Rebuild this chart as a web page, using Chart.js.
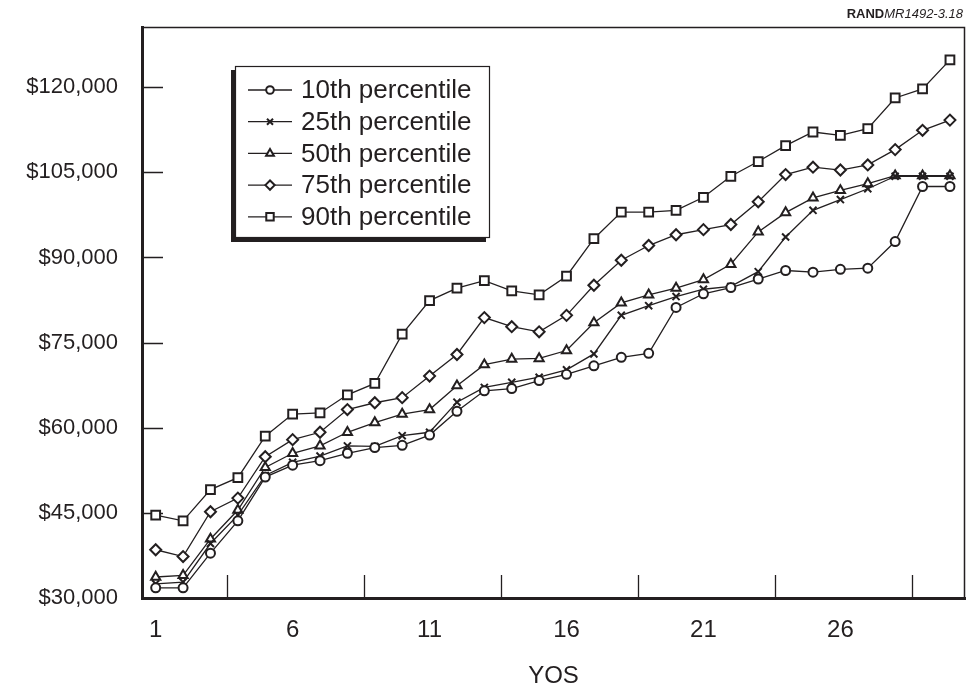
<!DOCTYPE html>
<html>
<head>
<meta charset="utf-8">
<script src="https://cdn.jsdelivr.net/npm/chart.js@4.4.0/dist/chart.umd.min.js"></script>
<style>
  html, body { margin: 0; padding: 0; background: #fff; }
  #wrap { width: 967px; height: 688px; }
</style>
</head>
<body>
<div id="wrap"><canvas id="yosChart" width="967" height="688"></canvas></div>
<script>
// years of service
const years = [1, 2, 3, 4, 5, 6, 7, 8, 9, 10, 11, 12, 13, 14, 15, 16, 17, 18, 19, 20, 21, 22, 23, 24, 25, 26, 27, 28, 29, 30];

// earnings by percentile
const p10 = [31800, 31800, 37900, 43600, 51300, 53400, 54200, 55500, 56500, 56900, 58700, 62900, 66500, 66900, 68300, 69400, 70900, 72400, 73100, 81200, 83600, 84700, 86200, 87700, 87400, 87900, 88100, 92800, 102500, 102500];
const p25 = [32500, 32800, 39600, 44600, 51600, 53900, 55000, 56800, 56700, 58600, 59200, 64500, 67100, 68000, 68900, 70200, 73000, 79800, 81500, 83100, 84400, 84900, 87500, 93600, 98300, 100200, 102100, 104300, 104300, 104300];
const p50 = [33700, 34000, 40400, 45500, 53000, 55500, 56800, 59200, 60900, 62400, 63200, 67400, 71100, 72100, 72200, 73600, 78500, 82000, 83400, 84600, 86100, 88800, 94500, 97900, 100500, 101800, 103000, 104400, 104400, 104400];
const p75 = [38500, 37300, 45200, 47600, 54900, 57900, 59200, 63200, 64400, 65300, 69100, 72900, 79400, 77800, 76900, 79800, 85100, 89500, 92100, 94000, 94900, 95800, 99800, 104600, 105900, 105400, 106300, 109000, 112400, 114200];
const p90 = [44600, 43600, 49100, 51200, 58500, 62400, 62600, 65800, 67800, 76500, 82400, 84600, 85900, 84100, 83400, 86700, 93300, 98000, 98000, 98300, 100600, 104300, 106900, 109700, 112100, 111500, 112700, 118100, 119700, 124800];

const seriesNames = ['10th percentile', '25th percentile', '50th percentile', '75th percentile', '90th percentile'];
const yTicks = [30000, 45000, 60000, 75000, 90000, 105000, 120000];
const xTickLabels = [1, 6, 11, 16, 21, 26];
const xTickMarks = [3.6, 8.6, 13.6, 18.6, 23.6, 28.6];

const ink = '#231f20';
const fontFamily = '"Liberation Sans", Arial, Helvetica, sans-serif';

function makeSet(label, values, style, radius) {
     return {
          label: label,
          data: years.map((yr, i) => ({ x: yr, y: values[i] })),
          borderColor: ink,
          borderWidth: 1.3,
          pointStyle: style,
          pointRadius: radius,
          pointBorderWidth: 2,
          pointBorderColor: ink,
          pointBackgroundColor: '#fff',
          tension: 0
     };
}

const datasets = [
     makeSet(seriesNames[0], p10, 'circle', 4.5),
     makeSet(seriesNames[1], p25, 'crossRot', 5),
     makeSet(seriesNames[2], p50, 'triangle', 5.3),
     makeSet(seriesNames[3], p75, 'rectRot', 5.5),
     makeSet(seriesNames[4], p90, 'rect', 6.2)
];

// frame, inside tick marks, boxed legend and the figure number
const framePlugin = {
     id: 'frame',
     beforeDatasetsDraw(chart) {
          const { ctx, chartArea: a, scales: { x, y } } = chart;
          ctx.save();
          ctx.strokeStyle = ink;
          ctx.lineWidth = 1.5;
          ctx.beginPath();
          ctx.moveTo(a.left, a.top + 0.5);
          ctx.lineTo(a.right - 0.5, a.top + 0.5);
          ctx.lineTo(a.right - 0.5, a.bottom);
          ctx.stroke();

          ctx.lineWidth = 1.3;
          ctx.beginPath();
          yTicks.forEach(v => {
               if (v === y.min) return;
               const py = Math.round(y.getPixelForValue(v)) + 0.5;
               ctx.moveTo(a.left, py);
               ctx.lineTo(a.left + 21, py);
          });
          xTickMarks.forEach(v => {
               const px = Math.round(x.getPixelForValue(v)) + 0.5;
               ctx.moveTo(px, a.bottom);
               ctx.lineTo(px, a.bottom - 23);
          });
          ctx.stroke();
          ctx.restore();
     },
     afterDraw(chart) {
          const ctx = chart.ctx;
          ctx.save();

          // legend box with drop shadow
          const bx = 235, by = 66, bw = 255, bh = 172;
          ctx.fillStyle = ink;
          ctx.fillRect(bx - 4, by + 4, bw, bh);
          ctx.fillStyle = '#fff';
          ctx.fillRect(bx, by, bw, bh);
          ctx.strokeStyle = ink;
          ctx.lineWidth = 1.2;
          ctx.strokeRect(bx + 0.5, by + 0.5, bw - 1, bh - 1);

          ctx.font = '26px ' + fontFamily;
          ctx.textBaseline = 'middle';
          ctx.textAlign = 'left';
          chart.data.datasets.forEach((ds, i) => {
               const ry = 90 + i * 31.7;
               ctx.strokeStyle = ink;
               ctx.lineWidth = 1.3;
               ctx.beginPath();
               ctx.moveTo(248, ry);
               ctx.lineTo(292, ry);
               ctx.stroke();
               ctx.fillStyle = '#fff';
               ctx.lineWidth = 2;
               Chart.helpers.drawPoint(ctx, {
                    pointStyle: ds.pointStyle,
                    radius: ds.pointRadius * 0.85,
                    borderWidth: 2,
                    rotation: 0
               }, 270, ry);
               ctx.fillStyle = ink;
               ctx.fillText(ds.label, 301, ry + 1);
          });

          // figure number, top right
          ctx.textBaseline = 'alphabetic';
          ctx.textAlign = 'left';
          ctx.font = 'italic 13px ' + fontFamily;
          const numText = 'MR1492-3.18';
          const numW = ctx.measureText(numText).width;
          ctx.font = 'bold 13px ' + fontFamily;
          const randW = ctx.measureText('RAND').width;
          const startX = 963 - numW - randW;
          ctx.fillText('RAND', startX, 18);
          ctx.font = 'italic 13px ' + fontFamily;
          ctx.fillText(numText, startX + randW, 18);
          ctx.restore();
     }
};

new Chart(document.getElementById('yosChart').getContext('2d'), {
     type: 'line',
     data: { datasets: datasets },
     options: {
          responsive: false,
          animation: false,
          devicePixelRatio: 1,
          layout: { autoPadding: false, padding: { top: 27, right: 2, left: 0, bottom: 0 } },
          plugins: {
               legend: { display: false },
               tooltip: { enabled: false }
          },
          scales: {
               x: {
                    type: 'linear',
                    min: 0.5,
                    max: 30.55,
                    afterBuildTicks: scale => { scale.ticks = xTickLabels.map(v => ({ value: v })); },
                    afterFit: scale => {
                         scale.height = 90;
                         scale.paddingLeft = 0;
                         scale.paddingRight = 0;
                    },
                    grid: { display: false, drawTicks: false },
                    border: { display: true, width: 3, color: ink },
                    ticks: {
                         padding: 18,
                         autoSkip: false,
                         maxRotation: 0,
                         color: ink,
                         font: { family: fontFamily, size: 24 }
                    },
                    title: {
                         display: true,
                         text: 'YOS',
                         color: ink,
                         font: { family: fontFamily, size: 24, lineHeight: 1 },
                         padding: { top: 0, bottom: 0 }
                    }
               },
               y: {
                    min: 30000,
                    max: 130600,
                    afterBuildTicks: scale => { scale.ticks = yTicks.map(v => ({ value: v })); },
                    afterFit: scale => {
                         scale.width = 142;
                         scale.paddingTop = 0;
                         scale.paddingBottom = 0;
                    },
                    grid: { display: false, drawTicks: false },
                    border: { display: true, width: 3, color: ink },
                    ticks: {
                         padding: 24,
                         color: ink,
                         font: { family: fontFamily, size: 22 },
                         callback: v => '$' + Number(v).toLocaleString('en-US')
                    }
               }
          }
     },
     plugins: [framePlugin]
});
</script>
</body>
</html>
